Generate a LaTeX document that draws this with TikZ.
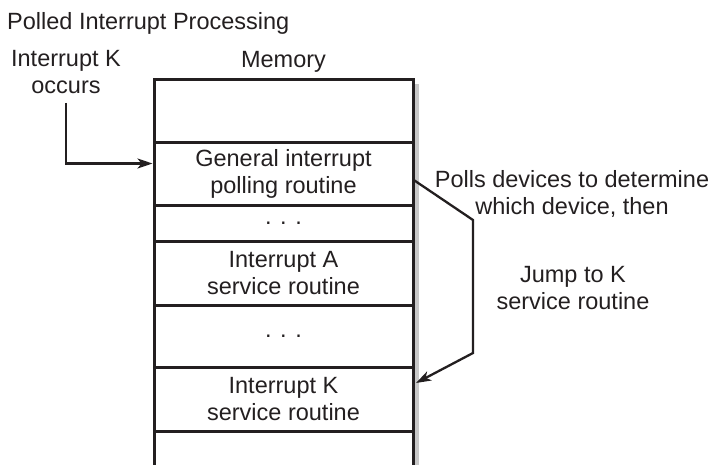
\documentclass[tikz,border=0pt]{standalone}
\usepackage{fontspec}
\setmainfont{Liberation Sans}
\usetikzlibrary{arrows.meta,positioning}
\definecolor{inchiostro}{RGB}{35,31,32}
\definecolor{ombra}{RGB}{200,200,200}

\begin{document}
\begin{tikzpicture}[x=1pt,y=-1pt,
  font=\fontsize{23.5}{27}\selectfont, text=inchiostro,
  cella/.style={draw=inchiostro, line width=3pt, minimum width=259pt,
    inner sep=0pt, outer sep=0pt, align=center},
  freccia/.style={draw=inchiostro, line width=2.3pt,
    -{Stealth[length=15pt,width=10pt,inset=4pt]}}]
\useasboundingbox (0,0) rectangle (713,464);
% titolo ed evento
\node[anchor=base west, inner sep=0pt] (titolo) at (7,29) {Polled Interrupt Processing};
\node[align=center, inner sep=0pt] (evento) at (66,72) {Interrupt K\\occurs};
% celle della memoria
\node[cella, minimum height=63pt] (vuota) at (283.5,110.5) {};
\foreach \nome/\altezza/\testo [remember=\nome as \sopra (initially vuota)] in {
  gen/63/{General interrupt\\polling routine}, puntiA/36/{. . .},
  intA/64/{Interrupt A\\service routine}, puntiB/62/{. . .},
  intK/64/{Interrupt K\\service routine}, fondo/45/{}
}{
  \node[cella, minimum height=\altezza pt, below=0pt of \sopra] (\nome) {\testo};
}
\node[anchor=base] (memoria) at ([yshift=12pt]vuota.north) {Memory};
% ombra a destra
\fill[ombra] ([xshift=1.5pt,yshift=-5pt]vuota.north east) rectangle ([xshift=6pt]fondo.south east);
% salto alla routine K
\node[align=center, inner sep=0pt] (polling) at (572,194) {Polls devices to determine\\which device, then};
\node[align=center, inner sep=0pt] (salto) at (573,288) {Jump to K\\service routine};
\coordinate (piegaA) at (473,220);
\coordinate (piegaB) at (473,353);
\draw[freccia] ([yshift=-9pt]evento.south) |- ([xshift=-1.5pt,yshift=10pt]gen.west);
\draw[freccia] ([yshift=-6pt]gen.east) -- (piegaA) -- (piegaB) -- ([xshift=3pt,yshift=16pt]intK.east);
\end{tikzpicture}
\end{document}
